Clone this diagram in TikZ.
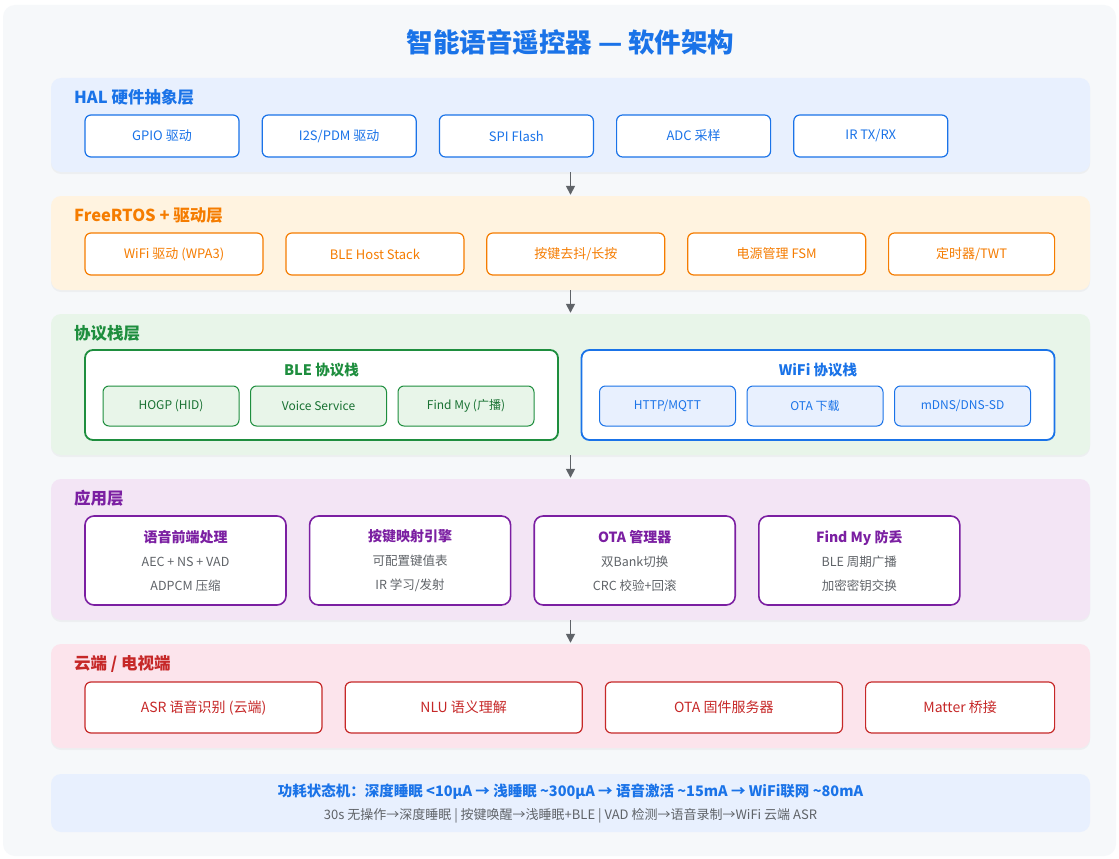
\documentclass[tikz,border=0pt]{standalone}
\usepackage{fontspec}
\setmainfont{Noto Sans CJK SC}
\usetikzlibrary{positioning,arrows.meta,shadows}

\definecolor{titleblue}{HTML}{1A73E8}
\definecolor{halfill}{HTML}{E8F0FE}
\definecolor{rtosorange}{HTML}{F57C00}
\definecolor{rtosfill}{HTML}{FFF3E0}
\definecolor{protogreen}{HTML}{1E8E3E}
\definecolor{protofill}{HTML}{E8F5E9}
\definecolor{appviolet}{HTML}{7B1FA2}
\definecolor{appfill}{HTML}{F3E5F5}
\definecolor{cloudred}{HTML}{C62828}
\definecolor{cloudfill}{HTML}{FCE4EC}
\definecolor{textgray}{HTML}{5F6368}
\definecolor{pagegray}{HTML}{F6F8FA}

\begin{document}
\begin{tikzpicture}[
    x=1pt, y=-1pt,
    every text node part/.style={align=center},
    node distance=22pt,
    layer/.style={
      % The shape:
      rectangle, rounded corners=10pt,
      % The size:
      minimum width=1039pt,
      % The filling (no border), with a faint shadow below
      draw=none,
      drop shadow={shadow xshift=0pt, shadow yshift=-2pt, opacity=0.07},
    },
    layertitle/.style={
      anchor=west, inner sep=0pt,
      font=\fontsize{16.5}{18}\selectfont\bfseries,
    },
    unit/.style={
      % The shape:
      rectangle, rounded corners=6pt,
      % The size:
      minimum height=42pt,
      % The border:
      line width=1.2pt,
      % The filling:
      fill=white,
      % Font
      font=\fontsize{13}{15}\selectfont,
    },
    group/.style={
      rectangle, rounded corners=8pt,
      minimum width=473pt, minimum height=90pt,
      line width=1.8pt, fill=white,
    },
    grouptitle/.style={font=\fontsize{14.5}{16}\selectfont\bfseries},
    stackunit/.style={
      rectangle, rounded corners=6pt,
      minimum width=136pt, minimum height=40pt,
      line width=1pt,
      font=\fontsize{12}{14}\selectfont,
    },
    appunit/.style={
      rectangle, rounded corners=9pt,
      minimum width=201pt, minimum height=89pt,
      line width=1.6pt, draw=appviolet, fill=white,
      font=\fontsize{12.5}{24}\selectfont, text=textgray,
    },
    flow/.style={
      line width=1.6pt, color=textgray,
      -{Triangle[length=9pt,width=9pt]}, shorten >=1pt,
    },
  ]

  % page and light background
  \fill[white] (0,0) rectangle (1119,859);
  \fill[pagegray, rounded corners=12pt] (3,5) rectangle (1116,856);

  \node[font=\fontsize{26.5}{30}\selectfont\bfseries, text=titleblue] (title) at (570.5,42)
        {智能语音遥控器 — 软件架构};

  % the layers
  \node[layer, fill=halfill, minimum height=94pt] (hal) at (570.5,125) {};
  \node[layer, fill=rtosfill, minimum height=94pt] (rtos) at (570.5,243) {};
  \node[layer, fill=protofill, minimum height=141pt] (proto) at (570.5,384.5) {};
  \node[layer, fill=appfill, minimum height=141pt] (app) at (570.5,549.5) {};
  \node[layer, fill=cloudfill, minimum height=104pt] (cloud) at (570.5,696) {};
  \node[rectangle, rounded corners=10pt, fill=halfill, minimum width=1039pt,
        minimum height=58pt] (power) at (570.5,803) {};

  \node[layertitle, text=titleblue] (haltitle) at (74,97) {HAL 硬件抽象层};
  \node[layertitle, text=rtosorange] (rtostitle) at (74,215) {FreeRTOS + 驱动层};
  \node[layertitle, text=protogreen] (prototitle) at (74,333) {协议栈层};
  \node[layertitle, text=appviolet] (apptitle) at (74,498) {应用层};
  \node[layertitle, text=cloudred] (cloudtitle) at (74,664) {云端 / 电视端};

  % HAL
  \node[unit, draw=titleblue, text=titleblue, minimum width=154pt] (gpio) at (162,136) {GPIO 驱动};
  \node[unit, draw=titleblue, text=titleblue, minimum width=154pt] (i2s) [right=of gpio] {I2S/PDM 驱动};
  \node[unit, draw=titleblue, text=titleblue, minimum width=154pt] (spi) [right=of i2s] {SPI Flash};
  \node[unit, draw=titleblue, text=titleblue, minimum width=154pt] (adc) [right=of spi] {ADC 采样};
  \node[unit, draw=titleblue, text=titleblue, minimum width=154pt] (irtx) [right=of adc] {IR TX/RX};

  % FreeRTOS
  \node[unit, draw=rtosorange, text=rtosorange, minimum width=178pt] (wifidrv) at (174,254) {WiFi 驱动 (WPA3)};
  \node[unit, draw=rtosorange, text=rtosorange, minimum width=178pt] (blehost) [right=21.7pt of wifidrv] {BLE Host Stack};
  \node[unit, draw=rtosorange, text=rtosorange, minimum width=178pt] (keys) [right=21.7pt of blehost] {按键去抖/长按};
  \node[unit, draw=rtosorange, text=rtosorange, minimum width=178pt] (powerfsm) [right=21.7pt of keys] {电源管理 FSM};
  \node[unit, draw=rtosorange, text=rtosorange, minimum width=166pt] (timers) [right=21.7pt of powerfsm] {定时器/TWT};

  % protocol stacks
  \node[group, draw=protogreen] (blegroup) at (321.5,395) {};
  \node[grouptitle, text=protogreen] (bletitle) at (321.5,370) {BLE 协议栈};
  \node[stackunit, draw=protogreen, fill=protofill, text=protogreen!80!black] (hogp) at (171,406) {HOGP (HID)};
  \node[stackunit, draw=protogreen, fill=protofill, text=protogreen!80!black] (voice) [right=10.5pt of hogp] {Voice Service};
  \node[stackunit, draw=protogreen, fill=protofill, text=protogreen!80!black] (findmy) [right=10.5pt of voice] {Find My (广播)};

  \node[group, draw=titleblue] (wifigroup) at (818,395) {};
  \node[grouptitle, text=titleblue] (wifititle) at (818,370) {WiFi 协议栈};
  \node[stackunit, draw=titleblue, fill=halfill, text=titleblue] (mqtt) at (667.5,406) {HTTP/MQTT};
  \node[stackunit, draw=titleblue, fill=halfill, text=titleblue] (otadl) [right=10.5pt of mqtt] {OTA 下载};
  \node[stackunit, draw=titleblue, fill=halfill, text=titleblue] (mdns) [right=10.5pt of otadl] {mDNS/DNS-SD};

  % applications
  \node[appunit] (frontend) at (185.5,560.5)
        {{\fontsize{14}{24}\selectfont\bfseries\color{appviolet}语音前端处理}\\AEC + NS + VAD\\ADPCM 压缩};
  \node[appunit] (keymap) [right=of frontend]
        {{\fontsize{14}{24}\selectfont\bfseries\color{appviolet}按键映射引擎}\\可配置键值表\\IR 学习/发射};
  \node[appunit] (otamgr) [right=of keymap]
        {{\fontsize{14}{24}\selectfont\bfseries\color{appviolet}OTA 管理器}\\双Bank切换\\CRC 校验+回滚};
  \node[appunit] (antilost) [right=of otamgr]
        {{\fontsize{14}{24}\selectfont\bfseries\color{appviolet}Find My 防丢}\\BLE 周期广播\\加密密钥交换};

  % cloud / TV
  \node[unit, draw=cloudred, text=cloudred, minimum width=237pt, minimum height=51pt,
        font=\fontsize{14}{16}\selectfont] (asr) at (203.5,707.5) {ASR 语音识别 (云端)};
  \node[unit, draw=cloudred, text=cloudred, minimum width=237pt, minimum height=51pt,
        font=\fontsize{14}{16}\selectfont] (nlu) [right=of asr] {NLU 语义理解};
  \node[unit, draw=cloudred, text=cloudred, minimum width=237pt, minimum height=51pt,
        font=\fontsize{14}{16}\selectfont] (otaserver) [right=of nlu] {OTA 固件服务器};
  \node[unit, draw=cloudred, text=cloudred, minimum width=189pt, minimum height=51pt,
        font=\fontsize{14}{16}\selectfont] (matter) [right=of otaserver] {Matter 桥接};

  % power states
  \node[font=\fontsize{14.5}{16}\selectfont\bfseries, text=titleblue] (powerline) at (570.5,792)
        {功耗状态机：深度睡眠 <10µA → 浅睡眠 \textasciitilde300µA → 语音激活 \textasciitilde15mA → WiFi联网 \textasciitilde80mA};
  \node[font=\fontsize{13}{15}\selectfont, text=textgray] (powernote) at (570.5,816)
        {30s 无操作→深度睡眠 | 按键唤醒→浅睡眠+BLE | VAD 检测→语音录制→WiFi 云端 ASR};

  \draw[flow] (hal.south) -- (rtos.north);
  \draw[flow] (rtos.south) -- (proto.north);
  \draw[flow] (proto.south) -- (app.north);
  \draw[flow] (app.south) -- (cloud.north);
\end{tikzpicture}
\end{document}
